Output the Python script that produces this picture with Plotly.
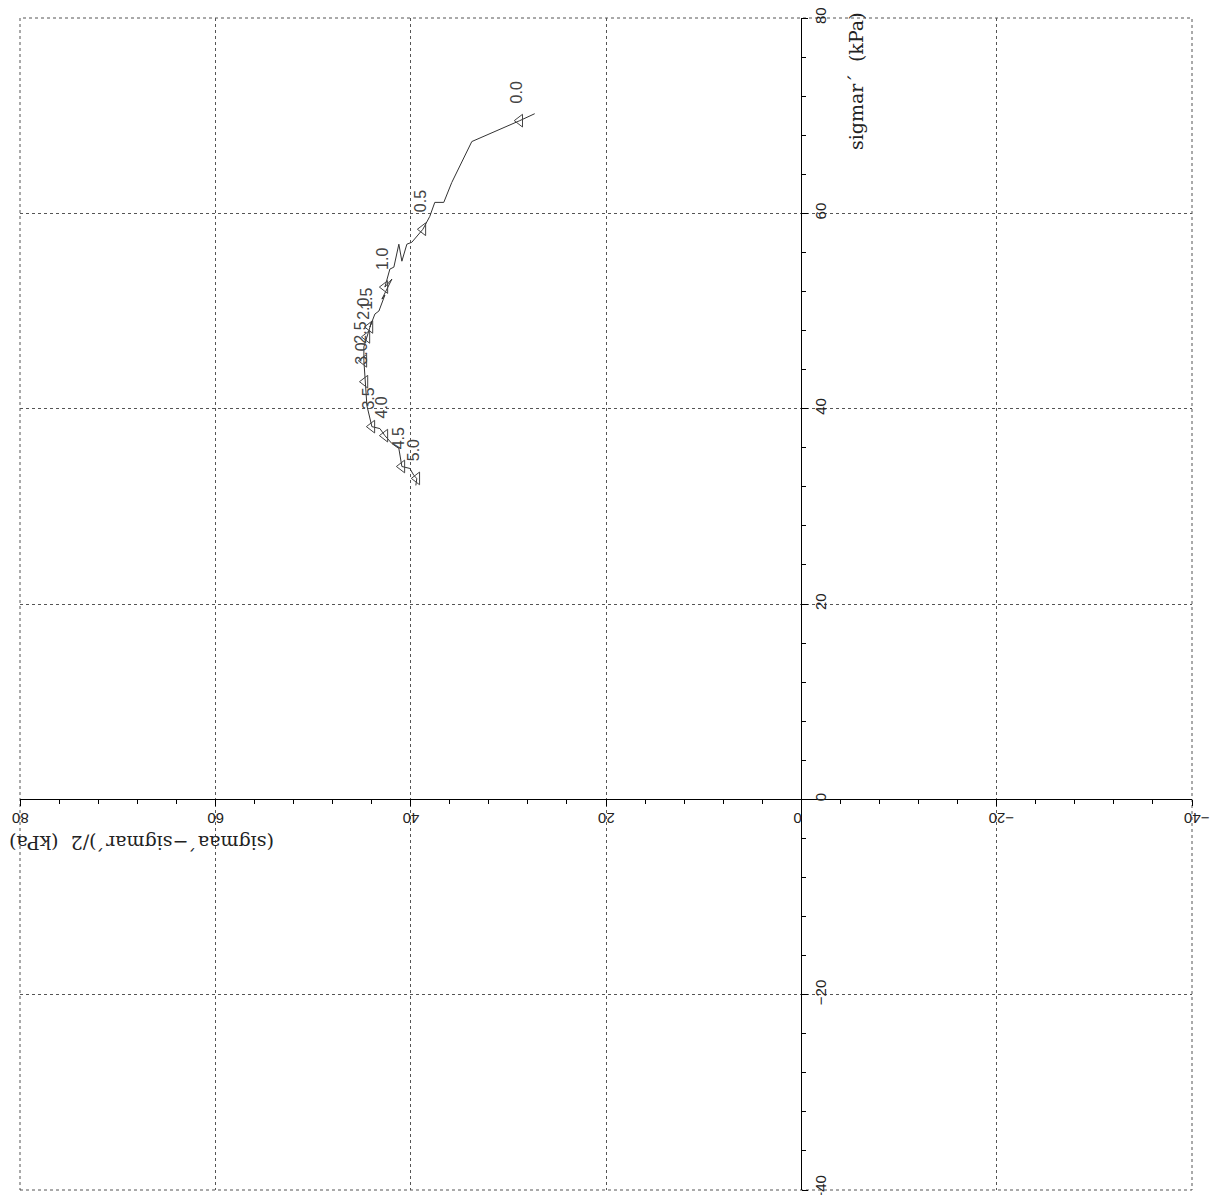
import plotly.graph_objects as go

# stress path: q = (sigmaa'-sigmar')/2 (horizontal, reversed), sigmar' (vertical)
q_vals = [27.30, 28.83, 33.74, 35.79, 36.61, 37.53, 38.04, 38.75, 39.88, 40.39,
          40.90, 41.21, 41.72, 42.13, 42.64, 41.92, 42.94, 42.64, 43.25, 43.66,
          44.17, 43.97, 44.48, 44.79, 44.79, 44.68, 44.48, 43.97, 43.15, 42.64,
          41.92, 41.21, 40.90, 40.08, 39.67, 39.37, 39.47]
sr_vals = [70.20, 69.49, 67.35, 63.16, 61.12, 61.12, 59.69, 58.37, 57.04, 56.84,
           55.10, 56.84, 54.49, 54.29, 52.45, 53.27, 51.22, 51.63, 50.00, 49.69,
           48.37, 48.98, 47.35, 46.33, 44.90, 42.76, 40.31, 38.16, 37.96, 37.24,
           36.43, 35.92, 34.08, 33.88, 33.16, 32.86, 32.14]

# marked points (triangles) with time labels
mark_q = [28.83, 38.75, 42.64, 44.17, 44.48, 44.79, 44.68, 43.97, 42.64, 40.90, 39.37]
mark_sr = [69.49, 58.37, 52.45, 48.37, 47.35, 44.90, 42.76, 38.16, 37.24, 34.08, 32.86]
mark_labels = ["0.0", "0.5", "1.0", "1.5", "2.0", "2.5", "3.0", "3.5", "4.0", "4.5", "5.0"]

tick_vals = [80, 60, 40, 20, 0, -20, -40]
tick_text = ["80", "60", "40", "20", "0", "\u221220", "\u221240"]

fig = go.Figure()
fig.add_trace(go.Scatter(x=q_vals, y=sr_vals, mode="lines",
                         line=dict(color="#333333", width=1), showlegend=False))
fig.add_trace(go.Scatter(x=mark_q, y=mark_sr, mode="markers",
                         marker=dict(symbol="triangle-left-open", size=11,
                                     color="#444444", line=dict(width=1, color="#444444")),
                         showlegend=False))
for qx, sy, lab in zip(mark_q, mark_sr, mark_labels):
    fig.add_annotation(x=qx, y=sy, text=lab, showarrow=False, textangle=-90,
                       xanchor="center", yanchor="middle",
                       xshift=-3, yshift=28,
                       font=dict(family="Liberation Sans", size=16, color="#444444"))

grid = dict(showgrid=True, gridcolor="#555555", gridwidth=1, griddash="3px,3px")
fig.update_xaxes(range=[80, -40], tickvals=tick_vals, ticktext=tick_text,
                 anchor="free", position=1/3, side="bottom", automargin=False,
                 ticklabeloverflow="allow", ticklabelshift=8, ticklabelstandoff=4,
                 showline=True, linecolor="black", linewidth=1,
                 ticks="outside", ticklen=6, tickcolor="black", tickangle=180,
                 zeroline=False,
                 minor=dict(dtick=4, ticks="outside", ticklen=4, tickcolor="black", showgrid=False),
                 tickfont=dict(family="Liberation Sans", size=15, color="#222222"), **grid)
fig.update_yaxes(range=[-40, 80], tickvals=tick_vals, ticktext=tick_text,
                 anchor="free", position=2/3, side="right", automargin=False,
                 ticklabeloverflow="allow",
                 showline=True, linecolor="black", linewidth=1,
                 ticks="outside", ticklen=6, tickcolor="black", tickangle=-90,
                 zeroline=False,
                 minor=dict(dtick=4, ticks="outside", ticklen=4, tickcolor="black", showgrid=False),
                 tickfont=dict(family="Liberation Sans", size=15, color="#222222"), **grid)

# dashed frame (gridlines at the range ends)
fig.add_shape(type="rect", xref="paper", yref="paper", x0=0, y0=0, x1=1, y1=1,
              line=dict(color="#555555", width=1, dash="3px,3px"), layer="below")

fig.add_annotation(xref="paper", yref="paper", x=0.7133, y=0.9462,
                   xanchor="center", yanchor="middle",
                   text="sigmar\u00b4  (kPa)", showarrow=False, textangle=-90,
                   font=dict(family="DejaVu Serif", size=19, color="#222222"))
fig.add_annotation(xref="paper", yref="paper", x=0.1041, y=0.2961,
                   xanchor="center", yanchor="middle",
                   text="(sigmaa\u00b4\u2212sigmar\u00b4)/2  (kPa)", showarrow=False, textangle=180,
                   font=dict(family="DejaVu Serif", size=19, color="#222222"))

fig.update_layout(width=1225, height=1195, plot_bgcolor="white", paper_bgcolor="white",
                  margin=dict(l=12, r=41, t=10, b=13))
fig.write_html("out.html")
